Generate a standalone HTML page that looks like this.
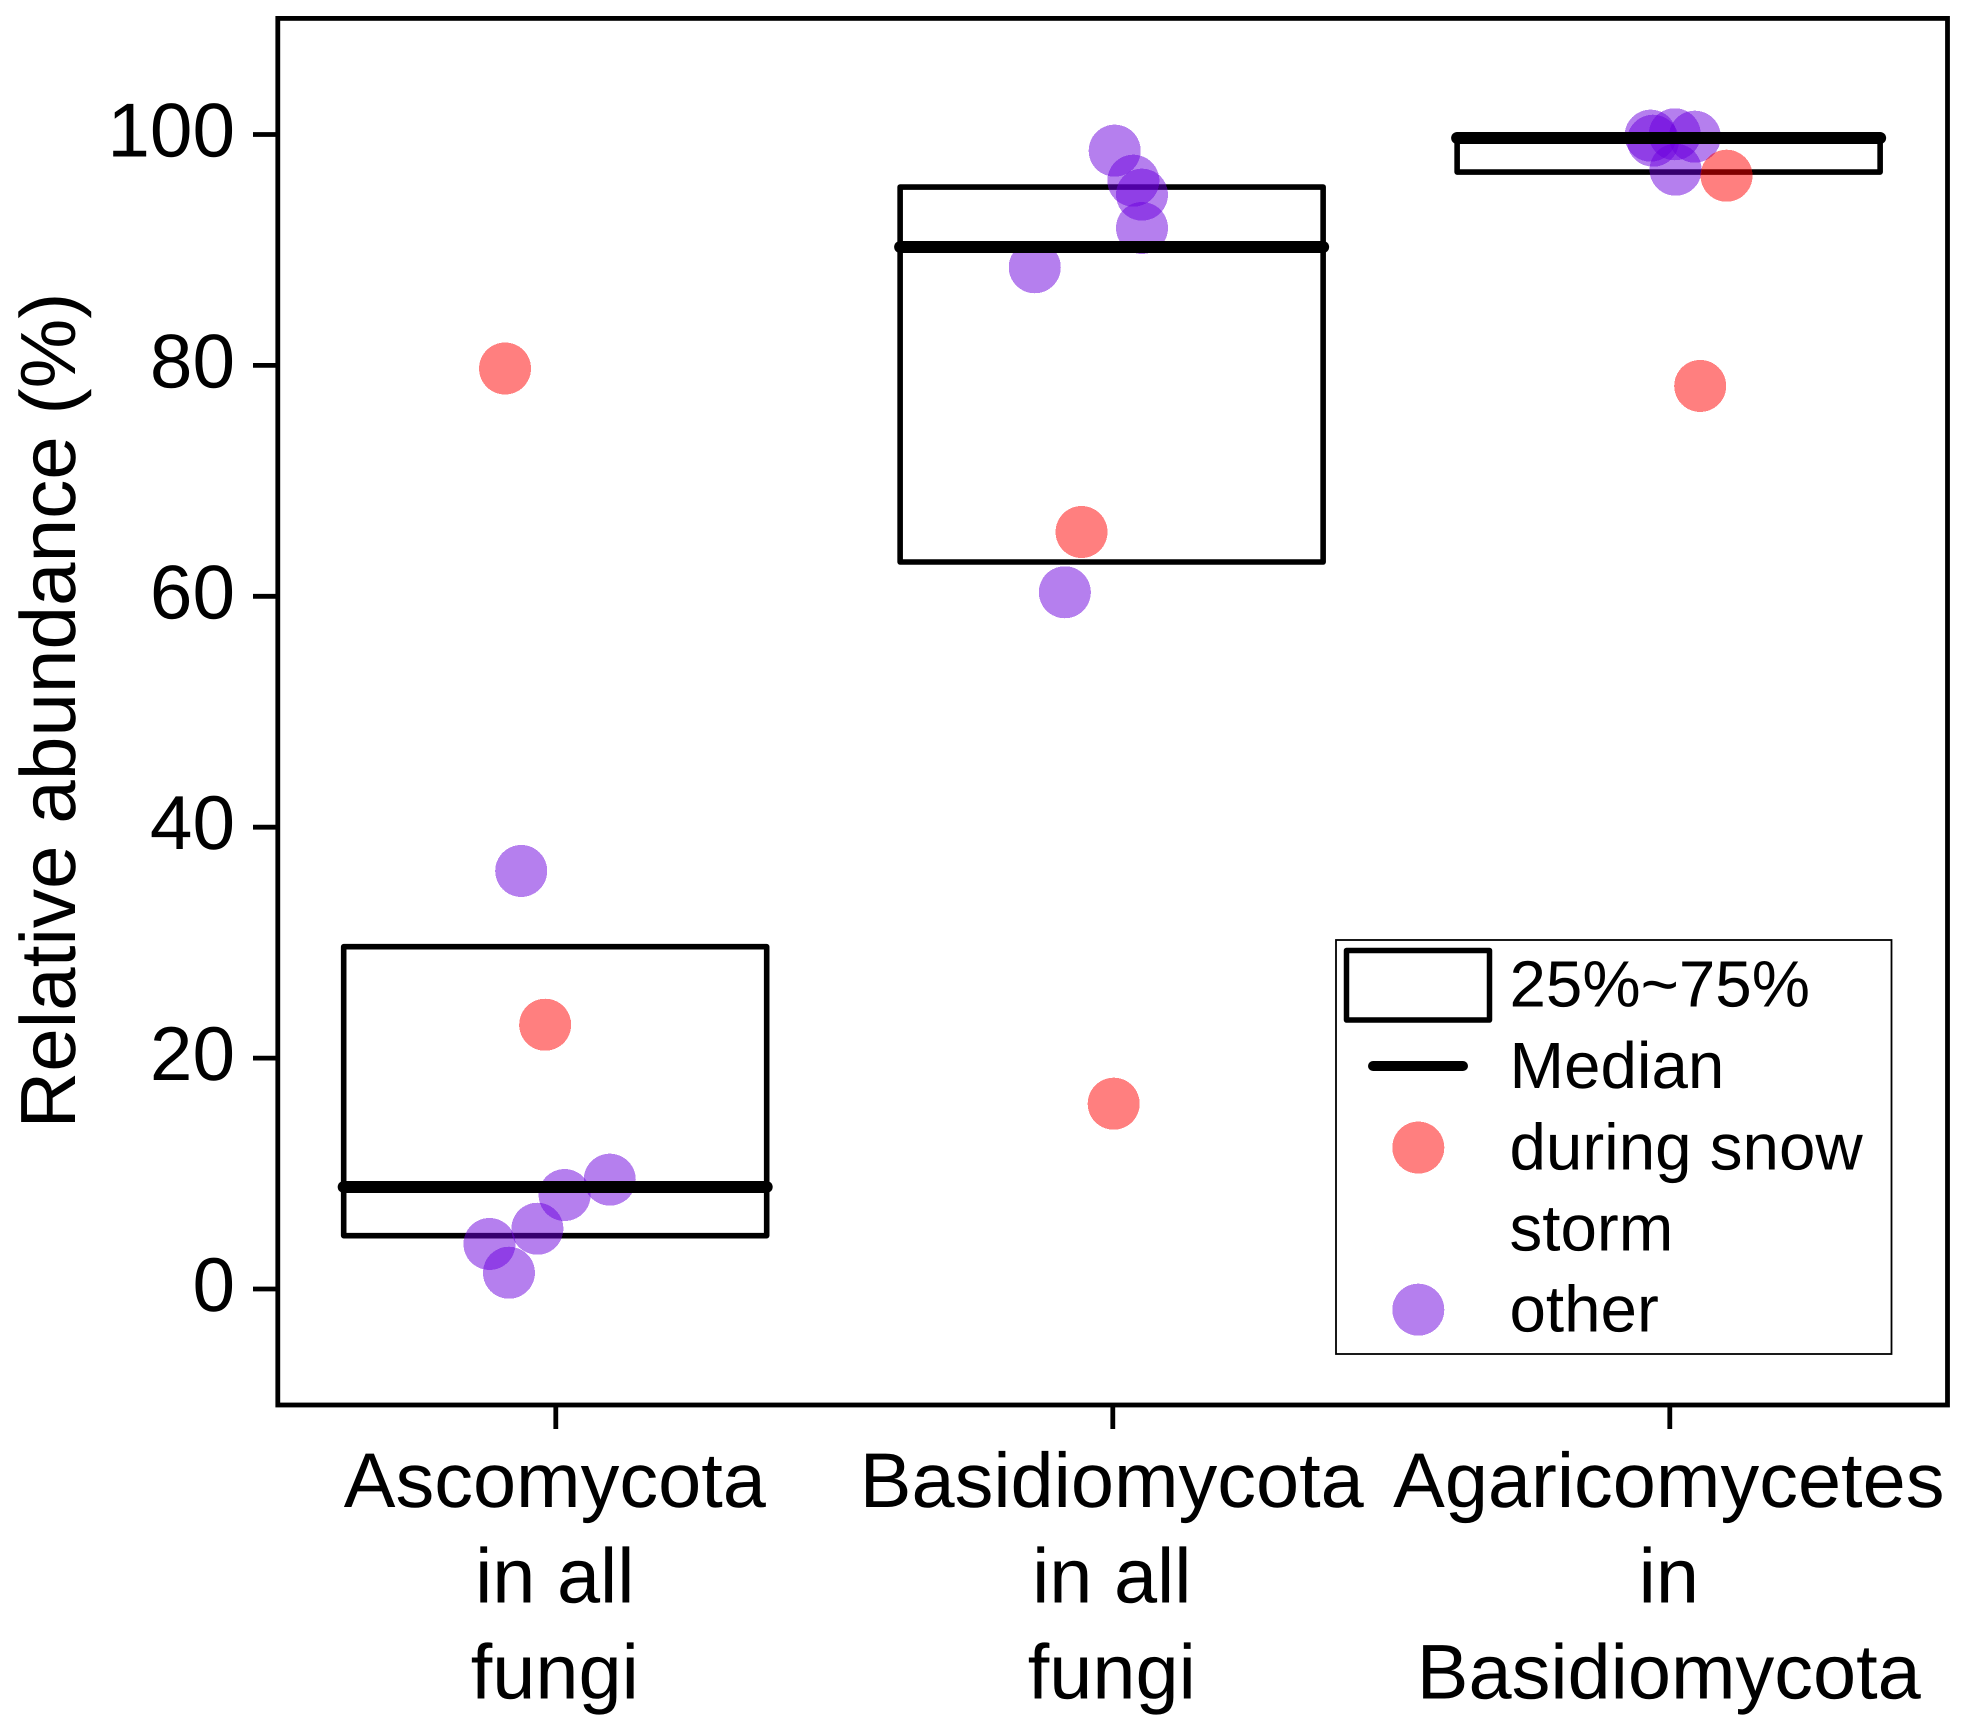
<!DOCTYPE html>
<html lang="en">
<head>
<meta charset="utf-8">
<title>Relative abundance chart</title>
<style>
html,body{margin:0;padding:0;background:#fff;}
svg{display:block;}
text{font-family:"Liberation Sans",Arial,sans-serif;fill:#000;text-rendering:geometricPrecision;}
</style>
</head>
<body>
<svg id="chart" xmlns="http://www.w3.org/2000/svg" width="1967" height="1733" viewBox="0 0 1967 1733">
  <rect x="0" y="0" width="1967" height="1733" fill="#fff"/>
  <g id="plot"></g>
  <rect x="277.8" y="18.4" width="1669.7" height="1386.6" fill="none" stroke="#000" stroke-width="4.8"/>
  <text transform="translate(75,710.5) rotate(-90)" text-anchor="middle" font-size="78.3">Relative abundance (%)</text>
  <g id="axes"></g>
  <g>
    <rect x="1336" y="940" width="555.5" height="414" fill="#fff" stroke="#000" stroke-width="1.8"/>
    <rect x="1346.5" y="950.5" width="143" height="69.5" fill="none" stroke="#000" stroke-width="5.5" stroke-linejoin="round"/>
    <text x="1509.5" y="1006.5" font-size="65.5">25%~75%</text>
    <line x1="1373" y1="1066" x2="1463" y2="1066" stroke="#000" stroke-width="10" stroke-linecap="round"/>
    <text x="1509.5" y="1088" font-size="65.5">Median</text>
    <circle cx="1418.3" cy="1147.6" r="26" fill="#ff0000" fill-opacity="0.5" shape-rendering="crispEdges"/>
    <text x="1509.5" y="1169.5" font-size="65.5">during snow</text>
    <text x="1509.5" y="1250.5" font-size="65.5">storm</text>
    <circle cx="1418.3" cy="1309.7" r="26" fill="#6b00dd" fill-opacity="0.5" shape-rendering="crispEdges"/>
    <text x="1509.5" y="1331.5" font-size="65.5">other</text>
  </g>
</svg>
<script>
// Chart data
const categories = [
  ["Ascomycota", "in all", "fungi"],
  ["Basidiomycota", "in all", "fungi"],
  ["Agaricomycetes", "in", "Basidiomycota"]
];
const yTicks = [0, 20, 40, 60, 80, 100];
const boxCentres = [0.998, 1.997, 2.997];
const q1Values = [4.62, 62.97, 96.75];
const q3Values = [29.65, 95.45, 99.8];
const medianValues = [8.84, 90.26, 99.7];
const otherX = [1.096, 1.015, 0.966, 0.880, 0.915, 0.937, 2.0025, 2.036, 2.0515, 2.0515, 1.859, 1.913, 2.9646, 2.969, 3.008, 3.044, 3.0095];
const otherY = [9.47, 8.14, 5.22, 3.90, 1.41, 36.21, 98.6, 96.0, 94.79, 91.9, 88.5, 60.35, 99.9, 99.46, 100.02, 99.81, 96.95];
const snowX = [0.98, 0.908, 1.943, 2.0007, 3.101, 3.0537];
const snowY = [22.89, 79.73, 65.57, 16.05, 96.43, 78.22];

// Axis functions
const xScale = function (c) { return 556.3 + (c - 1) * 557; };
const yScale = function (v) { return 1289 - v * 11.545; };
const NS = "http://www.w3.org/2000/svg";
const plot = document.getElementById("plot");
const axes = document.getElementById("axes");

function make(parent, tag, attrs, content) {
  const el = document.createElementNS(NS, tag);
  Object.keys(attrs).forEach(function (k) { el.setAttribute(k, attrs[k]); });
  if (content !== undefined) el.textContent = content;
  parent.appendChild(el);
  return el;
}

// Interquartile boxes (under the points)
boxCentres.forEach(function (c, i) {
  const top = yScale(q3Values[i]);
  const bottom = yScale(q1Values[i]);
  const el = make(plot, "rect", {
    x: xScale(c) - 211.5, y: top, width: 423, height: bottom - top,
    fill: "none", stroke: "#000", "stroke-width": 5.6, "stroke-linejoin": "round"
  });
  
  
});

// Points
otherX.forEach(function (x, i) {
  const el = make(plot, "circle", {
    cx: xScale(x), cy: yScale(otherY[i]), r: 26,
    fill: "#6b00dd", "fill-opacity": 0.5, "shape-rendering": "crispEdges"
  });
  
  
});
snowX.forEach(function (x, i) {
  const el = make(plot, "circle", {
    cx: xScale(x), cy: yScale(snowY[i]), r: 26,
    fill: "#ff0000", "fill-opacity": 0.5, "shape-rendering": "crispEdges"
  });
  
  
});

// Medians (over the points)
boxCentres.forEach(function (c, i) {
  const y = yScale(medianValues[i]);
  const el = make(plot, "line", {
    x1: xScale(c) - 211.5, x2: xScale(c) + 211.5, y1: y, y2: y,
    stroke: "#000", "stroke-width": 12, "stroke-linecap": "round"
  });
  
  
});

// Y axis ticks and labels
yTicks.forEach(function (t) {
  const y = yScale(t);
  const tick = make(axes, "line", { x1: 253, x2: 278, y1: y, y2: y, stroke: "#000", "stroke-width": 4.8 });
  
  
  const label = make(axes, "text", { x: 235, y: y + 22, "text-anchor": "end", "font-size": 76.5 }, String(t));
  
  
});

// X axis ticks and labels
categories.forEach(function (lines, i) {
  const x = xScale(i + 1);
  const tick = make(axes, "line", { x1: x - 0.5, x2: x - 0.5, y1: 1405, y2: 1429, stroke: "#000", "stroke-width": 4.8 });
  
  
  lines.forEach(function (line, j) {
    const label = make(axes, "text", { x: x - 1.5, y: 1507 + j * 95.7, "text-anchor": "middle", "font-size": 77.5 }, line);
    
    
  });
});
</script>
</body>
</html>
